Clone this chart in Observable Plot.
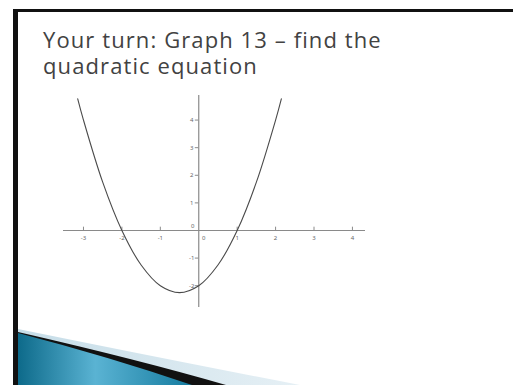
<!DOCTYPE html>
<html>
<head>
<meta charset="utf-8">
<script src="https://cdn.jsdelivr.net/npm/d3@7"></script>
<script src="https://cdn.jsdelivr.net/npm/@observablehq/plot@0.6"></script>
<style>
  html, body { margin: 0; padding: 0; background: #fff; }
  #slide { position: relative; width: 513px; height: 385px; overflow: hidden; background: #fff; }
  .bar { position: absolute; background: #111; }
  #title {
    position: absolute; left: 43px; top: 26px; margin: 0;
    font-family: "Open Sans", Lato, sans-serif; font-weight: 400;
    font-size: 22px; color: #424242; white-space: nowrap;
    letter-spacing: 1.1px; font-variant-ligatures: none;
  }
  #title div { height: 26px; line-height: 26px; overflow: visible; }
  #chart { position: absolute; left: 0; top: 0; }
  #swoosh { position: absolute; left: 0; top: 0; }
</style>
</head>
<body>
<div id="slide">
  <svg id="swoosh" width="513" height="385">
    <defs>
      <linearGradient id="teal" x1="18" y1="0" x2="190" y2="0" gradientUnits="userSpaceOnUse">
        <stop offset="0" stop-color="#0d6a8a"/>
        <stop offset="0.45" stop-color="#5ab3d3"/>
        <stop offset="1" stop-color="#167ca0"/>
      </linearGradient>
      <linearGradient id="pale" x1="18" y1="0" x2="300" y2="0" gradientUnits="userSpaceOnUse">
        <stop offset="0" stop-color="#c6dde8"/>
        <stop offset="1" stop-color="#e6f0f5"/>
      </linearGradient>
    </defs>
    <path d="M18,329 Q150,356 300,385 L18,385 Z" fill="url(#pale)"/>
    <path d="M18,332 Q140,360 226,385 L18,385 Z" fill="#111"/>
    <path d="M18,333 Q110,357 192,385 L18,385 Z" fill="url(#teal)"/>
  </svg>
  <div class="bar" style="left:13px; top:9px; width:500px; height:3px;"></div>
  <div class="bar" style="left:13px; top:9px; width:5px; height:376px;"></div>
  <div id="title"><div>Your turn: Graph 13 – find the</div><div>quadratic equation</div></div>
  <div id="chart"></div>
</div>
<script>
// Points read along the parabola
const curveX = [-3.15, -3, -2.5, -2, -1.5, -1, -0.5, 0, 0.5, 1, 1.5, 2, 2.15];
const curveY = [4.77, 4, 1.75, 0, -1.25, -2, -2.25, -2, -1.25, 0, 1.75, 4, 4.77];

// Axis tick values (zero handled separately)
const xTicks = [-3, -2, -1, 1, 2, 3, 4];
const yTicks = [-2, -1, 1, 2, 3, 4];

const curve = curveX.map((x, i) => ({x, y: curveY[i]}));

const axisColor = "#8a8a8a";
const labelColor = "#666";
const labelFont = 6;

const chart = Plot.plot({
  width: 513,
  height: 385,
  marginLeft: 63,
  marginRight: 148,
  marginTop: 95,
  marginBottom: 78,
  x: {domain: [-3.52, 4.34], axis: null},
  y: {domain: [-2.79, 4.89], axis: null},
  style: {background: "transparent", overflow: "visible"},
  marks: [
    // axes through the origin
    Plot.ruleY([0], {x1: -3.52, x2: 4.34, stroke: axisColor, strokeWidth: 1.2}),
    Plot.ruleX([0], {y1: -2.79, y2: 4.89, stroke: axisColor, strokeWidth: 1.2}),
    // tick marks
    Plot.ruleX(xTicks, {x: d => d, y1: 0, y2: 0.12, stroke: axisColor, strokeWidth: 1}),
    Plot.ruleY(yTicks, {y: d => d, x1: -0.09, x2: 0, stroke: axisColor, strokeWidth: 1}),
    // tick labels
    Plot.text(xTicks, {x: d => d, y: 0, dy: 8, text: d => String(d), fontSize: labelFont, fill: labelColor}),
    Plot.text(yTicks, {x: 0, y: d => d, dx: -7, text: d => String(d), fontSize: labelFont, fill: labelColor}),
    Plot.text([0], {x: 0, y: 0, dx: 5, dy: 8, text: () => "0", fontSize: labelFont, fill: labelColor}),
    Plot.text([0], {x: 0, y: 0, dx: -6, dy: -4, text: () => "0", fontSize: labelFont, fill: labelColor}),
    // the parabola
    Plot.line(curve, {x: "x", y: "y", curve: "catmull-rom", stroke: "#4a4a4a", strokeWidth: 1.1})
  ]
});
document.getElementById("chart").appendChild(chart);
</script>
</body>
</html>
